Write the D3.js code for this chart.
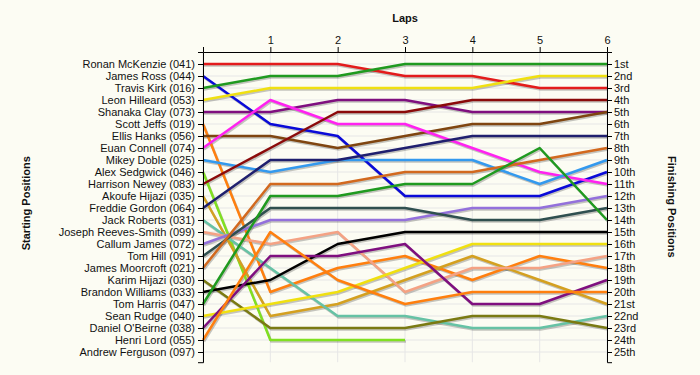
<!DOCTYPE html>
<html>
<head>
<meta charset="utf-8">
<script src="https://cdn.jsdelivr.net/npm/d3@7"></script>
<style>
  body { margin: 0; background: #fcfcf3; }
  svg text { font-family: Arial, "Liberation Sans", sans-serif; fill: #111; }
</style>
</head>
<body>
<div id="chart_div"></div>
<script>
// laps along the top, lap 0 is the grid
const laps = [0, 1, 2, 3, 4, 5, 6]
const lapLabels = ["", "1", "2", "3", "4", "5", "6"]

// drivers in starting order
const drivers = [
  "Ronan McKenzie (041)", "James Ross (044)", "Travis Kirk (016)", "Leon Hilleard (053)",
  "Shanaka Clay (073)", "Scott Jeffs (019)", "Ellis Hanks (056)", "Euan Connell (074)",
  "Mikey Doble (025)", "Alex Sedgwick (046)", "Harrison Newey (083)", "Akoufe Hijazi (035)",
  "Freddie Gordon (064)", "Jack Roberts (031)", "Joseph Reeves-Smith (099)", "Callum James (072)",
  "Tom Hill (091)", "James Moorcroft (021)", "Karim Hijazi (030)", "Brandon Williams (033)",
  "Tom Harris (047)", "Sean Rudge (040)", "Daniel O'Beirne (038)", "Henri Lord (055)",
  "Andrew Ferguson (097)"
]

const finishLabels = [
  "1st", "2nd", "3rd", "4th", "5th", "6th", "7th", "8th", "9th", "10th", "11th", "12th", "13th",
  "14th", "15th", "16th", "17th", "18th", "19th", "20th", "21st", "22nd", "23rd", "24th", "25th"
]

// position after each lap (index = lap), one row per driver, null = not running
const positions = [
  [1, 1, 1, 2, 2, 3, 3],
  [2, 6, 7, 12, 12, 12, 10],
  [3, 2, 2, 1, 1, 1, 1],
  [4, 3, 3, 3, 3, 2, 2],
  [5, 5, 4, 4, 5, 5, 5],
  [6, 20, 18, 17, 19, 17, 18],
  [7, 7, 8, 7, 6, 6, 5],
  [8, 4, 6, 6, 8, 10, 11],
  [9, 10, 9, 9, 9, 11, 9],
  [10, 24, 24, 24, null, null, null],
  [11, 8, 5, 5, 4, 4, 4],
  [12, 22, 21, 19, 17, 19, 21],
  [13, 9, 9, 8, 7, 7, 7],
  [14, 18, 22, 22, 23, 23, 22],
  [15, 16, 15, 20, 18, 18, 17],
  [16, 14, 14, 14, 13, 13, 12],
  [17, 13, 13, 13, 14, 14, 13],
  [18, 11, 11, 10, 10, 9, 8],
  [19, 23, 23, 23, 22, 22, 23],
  [20, 19, 16, 15, 15, 15, 15],
  [21, 12, 12, 11, 11, 8, 14],
  [22, 21, 20, 18, 16, 16, 16],
  [23, 17, 17, 16, 21, 21, 19],
  [24, 15, 19, 21, 20, 20, 20],
  [null, null, null, null, null, null, null]
]

const driverColors = [
  "#e31b1b", "#0a0ad8", "#1f9a1f", "#f0e010", "#7f0f7f", "#ff7f0e", "#7f4510", "#ff22f0",
  "#3399ee", "#80e020", "#8b0a0a", "#d4a020", "#1f1f6e", "#66c2a5", "#f4a284", "#9370db",
  "#2f4f4f", "#d2691e", "#7a7a12", "#000000", "#1f9a1f", "#f0e010", "#7f0f7f", "#ff7f0e",
  "#999999"
]

// set the dimensions and margins
const margin = {top: 52, right: 93, bottom: 13, left: 203},
  width = 700 - margin.left - margin.right,
  height = 375 - margin.top - margin.bottom;

const svg = d3.select("#chart_div")
  .append("svg")
    .attr("width", 700)
    .attr("height", 375)
  .append("g")
    .attr("transform", `translate(${margin.left},${margin.top})`);

const x = d3.scaleLinear()
  .domain([0, 6])
  .range([0, width]);

// one row = 12px, row 0 sits on the top axis
const y = d3.scaleLinear()
  .domain([0, 25.85])
  .range([0, 25.85 * 12]);

// grid
svg.append("g")
  .selectAll("line")
  .data(d3.range(1, 26))
  .join("line")
    .attr("x1", 0).attr("x2", width)
    .attr("y1", d => y(d)).attr("y2", d => y(d))
    .attr("stroke", "#e6e6e6");

svg.append("g")
  .selectAll("line")
  .data(laps)
  .join("line")
    .attr("x1", d => x(d)).attr("x2", d => x(d))
    .attr("y1", 0).attr("y2", y(25.85))
    .attr("stroke", "#e6e6e6");

// lines
const line = d3.line()
  .defined(d => d != null)
  .x((d, i) => x(laps[i]))
  .y(d => y(d));

svg.append("g")
  .selectAll("path")
  .data(positions)
  .join("path")
    .attr("d", d => line(d))
    .attr("fill", "none")
    .attr("stroke", "#000")
    .attr("stroke-opacity", 0.22)
    .attr("stroke-width", 2.5)
    .attr("transform", "translate(1,1.5)");

svg.append("g")
  .selectAll("path")
  .data(positions)
  .join("path")
    .attr("d", d => line(d))
    .attr("fill", "none")
    .attr("stroke", (d, i) => driverColors[i])
    .attr("stroke-width", 2.5)
    .attr("stroke-linejoin", "round");

// axes
const topAxis = svg.append("g")
  .call(d3.axisTop(x).tickValues(laps).tickFormat((d, i) => lapLabels[i]).tickSize(5).tickSizeOuter(0));

const leftAxis = svg.append("g")
  .call(d3.axisLeft(y).tickValues(d3.range(1, 26)).tickFormat((d, i) => drivers[i]).tickSize(5).tickPadding(3));

const rightAxis = svg.append("g")
  .attr("transform", `translate(${width},0)`)
  .call(d3.axisRight(y).tickValues(d3.range(1, 26)).tickFormat((d, i) => finishLabels[i]).tickSize(5).tickPadding(2));

[topAxis, leftAxis, rightAxis].forEach(a => {
  a.selectAll("text").attr("font-size", 11).attr("fill", "#111")
    .style("font-family", "Arial, 'Liberation Sans', sans-serif");
  a.selectAll("line, path").attr("stroke", "#000");
});

// titles
svg.append("text")
  .attr("x", width / 2)
  .attr("y", -30)
  .attr("text-anchor", "middle")
  .attr("font-size", 11)
  .attr("font-weight", "bold")
  .text("Laps");

svg.append("text")
  .attr("transform", `translate(${-173},${y(12.6)}) rotate(-90)`)
  .attr("text-anchor", "middle")
  .attr("font-size", 11)
  .attr("font-weight", "bold")
  .text("Starting Positions");

svg.append("text")
  .attr("transform", `translate(${width + 61},${y(12.9)}) rotate(90)`)
  .attr("text-anchor", "middle")
  .attr("font-size", 11)
  .attr("font-weight", "bold")
  .text("Finishing Positions");
</script>
</body>
</html>
